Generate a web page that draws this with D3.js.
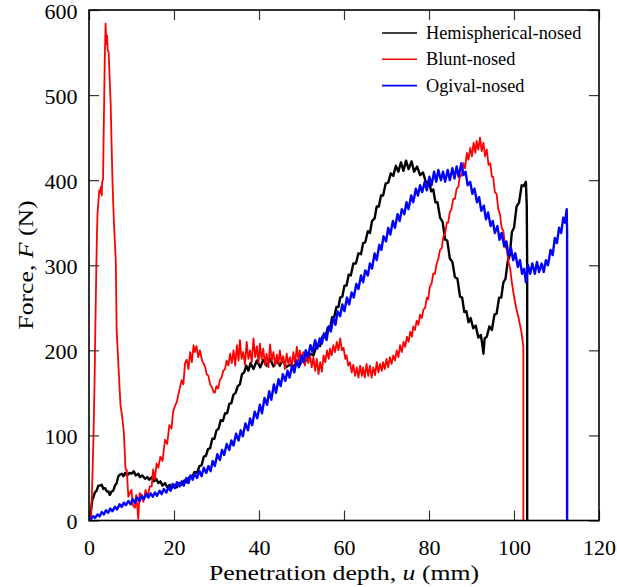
<!DOCTYPE html>
<html>
<head>
<meta charset="utf-8">
<script src="https://cdn.jsdelivr.net/npm/d3@7"></script>
<style>
  html, body { margin: 0; padding: 0; background: #fff; }
  svg text { font-family: "Liberation Serif", "DejaVu Serif", serif; }
</style>
</head>
<body>
<svg id="chart"></svg>
<script>
// chart data: [penetration depth u (mm), force F (N)]
var hemispherical = [[0,0],[0.25,6],[0.5,13],[0.8,25],[1.0,27],[1.4,33],[1.8,35],[2.2,41],[2.6,41],[3.0,42],[3.4,37],[3.8,38],[4.2,34],[4.6,34],[4.9,30],[5.3,34],[5.7,35],[6.1,41],[6.5,44],[6.9,52],[7.3,54],[7.7,55],[8.1,52],[8.5,56],[9.0,53],[9.5,56],[10.0,55],[10.5,58],[11.0,53],[11.6,55],[12.0,51],[12.5,53],[13.2,49],[13.7,51],[14.2,48],[14.8,51],[15.3,46],[15.8,49],[16.3,44],[16.8,46],[17.3,41],[17.9,44],[18.4,39],[19.0,42],[19.5,38],[20.0,42],[20.6,39],[21.2,44],[21.8,42],[22.4,47],[23.0,45],[23.6,51],[24.2,50],[24.8,57],[25.4,56],[26.0,64],[26.5,65],[27.0,75],[27.5,76],[28.0,84],[28.5,85],[29.0,96],[29.5,96],[30.0,106],[30.5,108],[31.0,118],[31.5,117],[32.0,126],[32.5,126],[33.0,137],[33.5,138],[34.0,148],[34.5,150],[35.0,158],[35.5,160],[36.0,172],[36.5,174],[37.0,182],[37.5,176],[38.0,185],[38.7,178],[39.5,188],[40.3,180],[41.0,189],[41.8,182],[42.6,190],[43.4,181],[44.2,188],[44.9,182],[45.6,189],[46.4,180],[47.2,183],[48.0,181],[48.8,184],[49.6,183],[50.4,190],[51.2,188],[52.0,196],[52.8,194],[53.6,206],[54.4,205],[55.0,217],[55.6,215],[56.2,227],[56.7,225],[57.2,239],[57.7,239],[58.2,251],[58.7,251],[59.1,262],[59.6,263],[60.1,276],[60.6,276],[61.1,289],[61.6,288],[62.2,302],[62.8,302],[63.4,314],[64.0,313],[64.5,326],[65.0,327],[65.6,340],[66.1,338],[66.6,352],[67.2,355],[67.7,369],[68.2,369],[68.7,382],[69.2,382],[69.8,396],[70.4,397],[71.0,408],[71.6,405],[72.2,417],[72.8,410],[73.4,421],[74.0,411],[74.6,423],[75.2,413],[75.9,422],[76.5,410],[77.2,416],[77.9,406],[78.6,409],[79.3,397],[80.0,399],[80.5,387],[81.0,389],[81.5,374],[82.0,374],[82.6,356],[83.2,351],[83.8,330],[84.3,329],[84.9,308],[85.5,304],[86.1,286],[86.7,284],[87.3,263],[87.8,262],[88.3,245],[88.8,246],[89.3,233],[89.8,238],[90.4,226],[91.0,229],[91.6,215],[92.2,218],[92.6,205],[92.8,196],[93.1,214],[93.6,216],[94.2,228],[94.8,224],[95.4,242],[95.9,243],[96.5,262],[97.0,262],[97.5,280],[98.0,284],[98.5,304],[99.0,312],[99.5,339],[100.0,344],[100.6,369],[101.2,374],[101.8,394],[102.3,393],[102.8,398],[103.0,370],[103.1,300],[103.1,0]];

var blunt = [[0,0],[0.5,4],[0.8,50],[1.06,100],[1.3,160],[1.46,215],[1.7,290],[1.86,334],[2.0,361],[2.26,378],[2.4,388],[2.6,385],[2.8,392],[3.0,382],[3.1,398],[3.3,401],[3.5,470],[3.7,540],[3.9,584],[4.1,560],[4.25,570],[4.4,553],[4.63,550],[4.9,515],[5.1,490],[5.3,445],[5.5,404],[5.7,372],[5.95,341],[6.3,306],[6.5,224],[6.9,185],[7.4,136],[7.7,126],[8.2,104],[8.6,60],[8.9,59],[9.25,28],[9.6,32],[10.0,36],[10.3,18],[10.8,15],[11.1,30],[11.6,2],[11.9,32],[12.4,30],[12.8,22],[13.3,36],[13.8,28],[14.3,40],[14.75,40],[15.1,60],[15.5,48],[15.9,67],[16.3,62],[16.8,75],[17.3,70],[17.9,95],[18.4,90],[18.9,112],[19.4,108],[19.8,128],[20.2,134],[20.7,140],[21.2,152],[21.8,165],[22.2,160],[22.6,185],[23.0,189],[23.4,178],[23.8,198],[24.2,186],[24.6,206],[24.9,198],[25.3,205],[25.7,192],[26.1,200],[26.6,188],[27.0,184],[27.3,181],[27.7,172],[28.1,170],[28.5,160],[28.9,157],[29.3,151],[29.6,150],[30.0,158],[30.4,155],[30.8,165],[31.2,168],[31.6,176],[32.0,178],[32.4,188],[32.8,182],[33.2,196],[33.6,185],[34.0,200],[34.4,182],[34.8,206],[35.2,188],[35.5,212],[35.9,190],[36.3,198],[36.7,183],[37.1,210],[37.5,190],[37.9,200],[38.3,186],[38.7,214],[39.1,192],[39.5,205],[39.9,185],[40.2,208],[40.6,190],[41.0,202],[41.4,183],[41.8,196],[42.2,180],[42.6,207],[43.0,188],[43.4,198],[43.8,182],[44.2,195],[44.6,184],[44.9,200],[45.3,186],[45.7,193],[46.1,178],[46.5,196],[46.9,184],[47.3,192],[47.7,180],[48.1,198],[48.5,185],[48.9,204],[49.3,188],[49.6,200],[50.0,186],[50.4,198],[50.8,182],[51.2,196],[51.6,185],[52.0,194],[52.4,180],[52.8,192],[53.2,176],[53.6,190],[54.0,172],[54.4,186],[54.8,175],[55.2,194],[55.6,186],[56.0,200],[56.4,190],[56.7,202],[57.1,194],[57.5,206],[57.9,198],[58.3,210],[58.7,200],[59.1,214],[59.5,200],[59.9,203],[60.3,190],[60.6,194],[61.0,182],[61.4,186],[61.8,174],[62.2,183],[62.6,170],[63.0,180],[63.4,168],[63.8,182],[64.2,170],[64.5,180],[64.9,168],[65.3,184],[65.7,170],[66.1,182],[66.5,168],[66.9,180],[67.3,171],[67.7,186],[68.1,174],[68.5,184],[68.9,176],[69.2,186],[69.6,178],[70.0,190],[70.4,180],[70.8,192],[71.2,184],[71.6,194],[72.0,188],[72.4,200],[72.8,192],[73.2,206],[73.6,198],[74.0,210],[74.4,204],[74.8,216],[75.2,210],[75.6,222],[76.0,216],[76.3,228],[76.7,224],[77.1,235],[77.5,230],[77.9,242],[78.3,238],[78.7,248],[79.1,250],[79.5,262],[79.8,260],[80.2,275],[80.6,278],[81.0,290],[81.4,290],[81.8,302],[82.2,308],[82.6,318],[83.0,320],[83.4,334],[83.8,338],[84.2,350],[84.5,350],[84.9,362],[85.3,366],[85.7,378],[86.1,378],[86.5,390],[86.9,392],[87.3,406],[87.7,405],[88.1,420],[88.5,414],[88.9,432],[89.3,424],[89.7,438],[90.1,428],[90.5,444],[90.9,432],[91.2,446],[91.6,436],[92.0,450],[92.4,434],[92.8,444],[93.2,428],[93.6,436],[94.0,418],[94.4,420],[94.8,404],[95.1,404],[95.5,386],[95.9,384],[96.3,366],[96.7,360],[97.1,344],[97.5,340],[97.9,324],[98.3,318],[98.7,304],[99.1,296],[99.5,280],[99.8,270],[100.2,258],[100.6,248],[101.0,240],[101.4,230],[101.8,220],[102.2,204],[102.2,0]];

var ogival = [[0,0],[0.5,2],[1.0,5],[1.4,3],[2.0,7],[2.5,5],[3.0,10],[3.5,7],[4.0,12],[4.5,9],[5.0,14],[5.5,11],[6.1,16],[6.6,13],[7.2,19],[7.7,16],[8.2,21],[8.7,18],[9.3,23],[9.8,19],[10.3,25],[10.8,21],[11.3,27],[11.9,23],[12.4,29],[12.9,25],[13.5,31],[14.0,27],[14.5,32],[15.0,28],[15.5,33],[16.0,29],[16.6,35],[17.1,31],[17.6,37],[18.2,33],[18.7,39],[19.2,35],[19.7,43],[20.2,38],[20.7,45],[21.3,40],[21.8,46],[22.3,41],[22.9,50],[23.4,44],[23.9,53],[24.4,48],[24.9,55],[25.4,50],[26.0,58],[26.5,52],[27.0,62],[27.6,56],[28.1,64],[28.6,58],[29.1,70],[29.6,64],[30.2,78],[30.8,71],[31.3,83],[31.8,77],[32.4,90],[33.0,83],[33.5,94],[34.0,88],[34.6,102],[35.2,94],[35.7,106],[36.2,99],[36.8,114],[37.4,106],[37.9,120],[38.4,112],[39.0,128],[39.6,120],[40.2,136],[40.7,126],[41.3,144],[41.9,136],[42.4,152],[42.9,142],[43.5,160],[44.0,150],[44.6,166],[45.1,158],[45.6,172],[46.2,164],[46.7,176],[47.2,168],[47.8,182],[48.3,174],[48.9,188],[49.4,180],[50.0,194],[50.5,186],[51.0,200],[51.5,192],[52.1,206],[52.6,198],[53.2,212],[53.7,202],[54.3,214],[54.8,208],[55.3,220],[55.9,212],[56.4,228],[56.9,222],[57.5,238],[58.0,230],[58.5,246],[59.1,240],[59.6,254],[60.1,246],[60.7,262],[61.2,254],[61.8,268],[62.3,262],[62.9,278],[63.4,272],[64.0,288],[64.5,280],[65.0,294],[65.6,288],[66.1,302],[66.6,296],[67.2,314],[67.7,306],[68.3,324],[68.8,318],[69.3,334],[69.9,328],[70.4,344],[70.9,336],[71.5,352],[72.0,344],[72.6,360],[73.1,352],[73.6,366],[74.2,360],[74.7,374],[75.2,366],[75.8,382],[76.3,374],[76.9,390],[77.4,382],[77.9,394],[78.4,386],[79.0,398],[79.5,388],[80.1,404],[80.6,394],[81.2,410],[81.7,398],[82.2,412],[82.8,400],[83.3,410],[83.8,398],[84.4,412],[84.9,400],[85.5,414],[86.0,402],[86.5,416],[87.0,404],[87.6,420],[88.1,406],[88.6,410],[89.1,394],[89.7,398],[90.2,384],[90.7,390],[91.3,374],[91.8,380],[92.3,364],[92.9,370],[93.4,354],[93.9,362],[94.5,346],[95.0,352],[95.5,338],[96.1,346],[96.6,330],[97.1,338],[97.7,322],[98.2,328],[98.7,312],[99.3,320],[99.8,306],[100.3,314],[100.9,298],[101.4,306],[101.9,290],[102.4,296],[102.8,280],[103.3,300],[103.8,290],[104.3,302],[104.9,290],[105.4,304],[105.9,292],[106.5,302],[107.0,292],[107.5,306],[108.0,300],[108.6,318],[109.1,312],[109.6,332],[110.1,326],[110.6,344],[111.1,338],[111.6,356],[112.0,350],[112.4,366],[112.5,337],[112.5,0]];

var seriesNames = ["Hemispherical-nosed", "Blunt-nosed", "Ogival-nosed"];
var seriesColors = ["#000000", "#ff0000", "#0000ff"];
var xTicks = [0, 20, 40, 60, 80, 100, 120];
var yTicks = [0, 100, 200, 300, 400, 500, 600];

var width = 617;
var height = 587;
var margin = {left: 89, right: 18, top: 10, bottom: 66.5};
var tick_len = 10;
var label_stretch = 1.1;   // the reference type is a little wider than Liberation Serif
var title_stretch = 1.17;

var svg = d3.select("#chart")
            .attr("width", width)
            .attr("height", height);

var x = d3.scaleLinear().domain([0, 120]).range([margin.left, width - margin.right]);
var y = d3.scaleLinear().domain([0, 600]).range([height - margin.bottom, margin.top]);

svg.append("clipPath")
   .attr("id", "plot_clip")
   .append("rect")
   .attr("x", x(0))
   .attr("y", y(600))
   .attr("width", x(120) - x(0))
   .attr("height", y(0) - y(600));

// curves
var line = d3.line()
             .x(d => x(d[0]))
             .y(d => y(d[1]));

var allSeries = [hemispherical, blunt, ogival];
var widths = [2.4, 1.8, 2.4];

svg.append("g")
   .attr("clip-path", "url(#plot_clip)")
   .selectAll("path")
   .data(allSeries)
   .enter()
   .append("path")
   .attr("d", d => line(d))
   .attr("fill", "none")
   .attr("stroke", (d, i) => seriesColors[i])
   .attr("stroke-width", (d, i) => widths[i])
   .attr("stroke-linejoin", "round");

// axes, ticks pointing inward on all four sides
var tick_color = "#333";
svg.append("g")
   .attr("transform", "translate(0," + y(0) + ")")
   .call(d3.axisBottom(x).tickValues(xTicks).tickSizeInner(-tick_len).tickSizeOuter(0).tickPadding(20))
   .call(g => g.select(".domain").remove())
   .call(g => g.selectAll("line").attr("stroke", tick_color).attr("stroke-width", 1.2))
   .call(g => g.selectAll("text").attr("font-size", 20).attr("fill", "#000")
                .attr("transform", "scale(" + label_stretch + ",1)"));

svg.append("g")
   .attr("transform", "translate(0," + y(600) + ")")
   .call(d3.axisTop(x).tickValues(xTicks).tickSizeInner(-tick_len).tickSizeOuter(0).tickFormat(""))
   .call(g => g.select(".domain").remove())
   .call(g => g.selectAll("line").attr("stroke", tick_color).attr("stroke-width", 1.2));

svg.append("g")
   .attr("transform", "translate(" + x(0) + ",0)")
   .call(d3.axisLeft(y).tickValues(yTicks).tickSizeInner(-tick_len).tickSizeOuter(0).tickPadding(10.5))
   .call(g => g.select(".domain").remove())
   .call(g => g.selectAll("line").attr("stroke", tick_color).attr("stroke-width", 1.2))
   .call(g => g.selectAll("text").attr("font-size", 20).attr("fill", "#000")
                .attr("dy", "0.42em")
                .attr("transform", "scale(" + label_stretch + ",1)"));

svg.append("g")
   .attr("transform", "translate(" + x(120) + ",0)")
   .call(d3.axisRight(y).tickValues(yTicks).tickSizeInner(-tick_len).tickSizeOuter(0).tickFormat(""))
   .call(g => g.select(".domain").remove())
   .call(g => g.selectAll("line").attr("stroke", tick_color).attr("stroke-width", 1.2));

// frame
svg.append("rect")
   .attr("x", x(0))
   .attr("y", y(600))
   .attr("width", x(120) - x(0))
   .attr("height", y(0) - y(600))
   .attr("fill", "none")
   .attr("stroke", "#000")
   .attr("stroke-width", 1.6);

// axis titles
var xTitle = svg.append("text")
   .attr("transform", "translate(" + ((x(0) + x(120)) / 2) + ",580) scale(" + title_stretch + ",1)")
   .attr("text-anchor", "middle")
   .attr("font-size", 22);
xTitle.append("tspan").text("Penetration depth, ");
xTitle.append("tspan").attr("font-style", "italic").text("u");
xTitle.append("tspan").text(" (mm)");

var yTitle = svg.append("text")
   .attr("transform", "translate(33,265) rotate(-90) scale(" + title_stretch + ",1)")
   .attr("text-anchor", "middle")
   .attr("font-size", 22);
yTitle.append("tspan").text("Force, ");
yTitle.append("tspan").attr("font-style", "italic").text("F");
yTitle.append("tspan").text(" (N)");

// legend
var legend = svg.append("g")
                .selectAll("g")
                .data(seriesNames)
                .enter()
                .append("g")
                .attr("transform", (d, i) => "translate(382," + (33 + i * 26.3) + ")");

legend.append("line")
      .attr("x1", 0)
      .attr("x2", 35)
      .attr("stroke", (d, i) => seriesColors[i])
      .attr("stroke-width", 1.6);

legend.append("text")
      .attr("x", 44)
      .attr("y", 6)
      .attr("font-size", 18.3)
      .text(d => d);
</script>
</body>
</html>
